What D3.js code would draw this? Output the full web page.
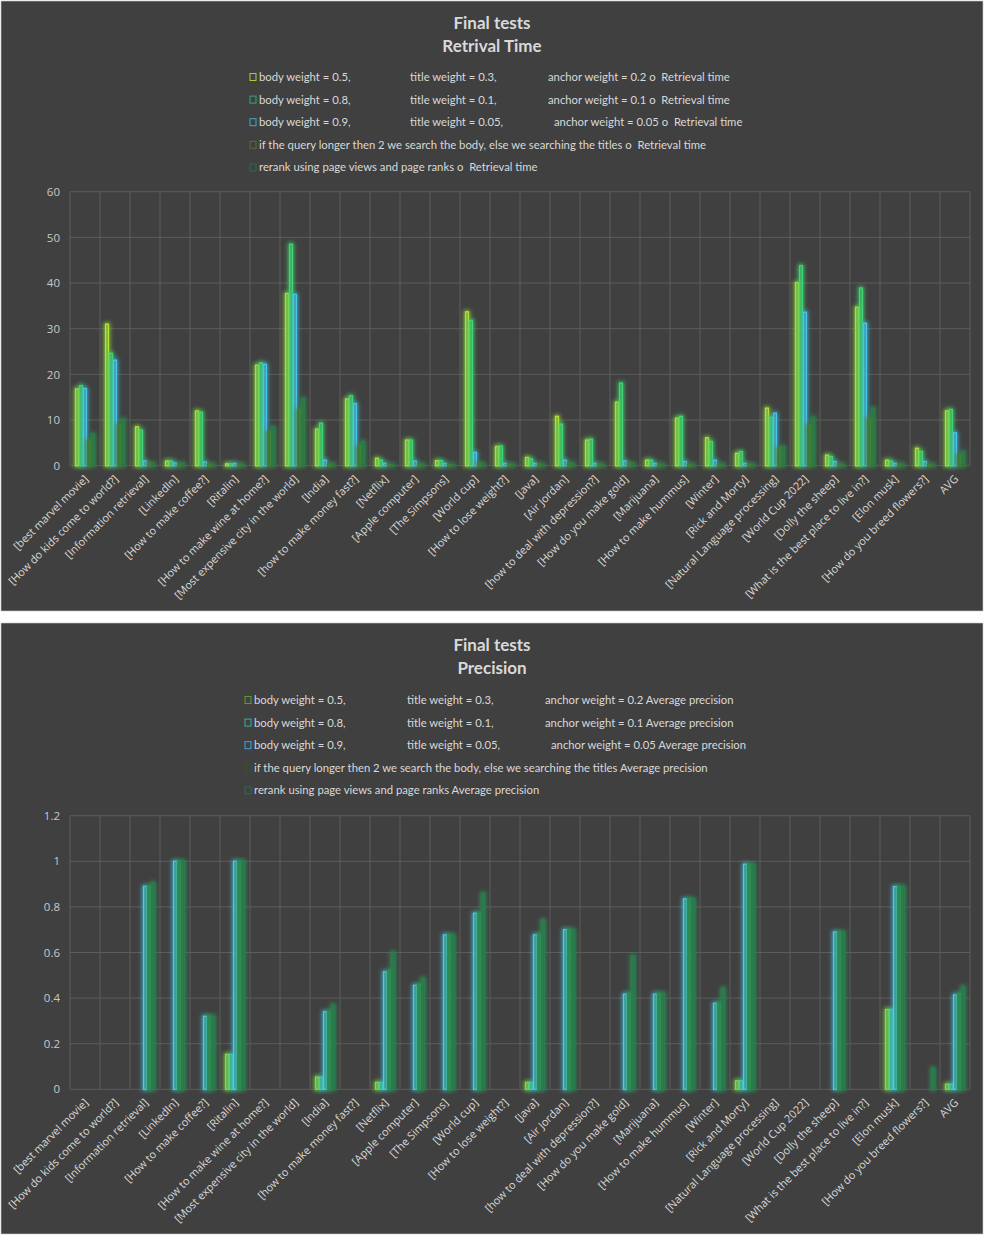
<!DOCTYPE html>
<html>
<head>
<meta charset="utf-8">
<script src="https://cdn.jsdelivr.net/npm/d3@7"></script>
<style>
  html, body { margin: 0; padding: 0; background: #ffffff; }
  svg { display: block; }
  .lg { white-space: pre; }
</style>
</head>
<body>
<svg id="chart" width="985" height="1236"></svg>
<script>
// ---------------- DATA ----------------
const categories = [
  "[best marvel movie]", "[How do kids come to world?]", "[Information retrieval]", "[LinkedIn]",
  "[How to make coffee?]", "[Ritalin]", "[How to make wine at home?]", "[Most expensive city in the world]",
  "[India]", "[how to make money fast?]", "[Netflix]", "[Apple computer]", "[The Simpsons]", "[World cup]",
  "[How to lose weight?]", "[Java]", "[Air Jordan]", "[how to deal with depression?]", "[How do you make gold]",
  "[Marijuana]", "[How to make hummus]", "[Winter]", "[Rick and Morty]", "[Natural Language processing]",
  "[World Cup 2022]", "[Dolly the sheep]", "[What is the best place to live in?]", "[Elon musk]",
  "[How do you breed flowers?]", "AVG"
];

// Retrieval time (seconds)
const rtBody05 = [16.8, 31.0, 8.5, 1.0, 12.0, 0.4, 22.0, 37.7, 8.0, 14.6, 1.6, 5.6, 1.1, 33.7, 4.2,
                  1.8, 10.8, 5.6, 13.9, 1.2, 10.4, 6.1, 2.7, 12.6, 40.1, 2.3, 34.7, 1.2, 3.8, 12.0];
const rtBody08 = [17.5, 24.6, 7.8, 1.0, 11.7, 0.4, 22.5, 48.5, 9.3, 15.3, 1.2, 5.6, 1.1, 31.8, 4.3,
                  1.5, 9.1, 5.8, 18.1, 1.2, 10.8, 5.3, 3.1, 10.6, 43.8, 2.0, 38.9, 1.0, 3.1, 12.3];
const rtBody09 = [16.9, 23.1, 1.0, 0.6, 0.8, 0.5, 22.2, 37.5, 1.2, 13.6, 0.5, 1.0, 0.5, 2.9, 0.5,
                  0.5, 1.2, 0.5, 1.0, 0.5, 0.9, 1.2, 0.5, 11.5, 33.6, 0.9, 31.2, 0.5, 0.9, 7.2];
const rtLongQuery = [5.5, 8.9, 0.5, 0.3, 0.3, 0.3, 7.4, 12.3, 0.3, 4.2, 0.2, 0.3, 0.2, 0.5, 0.3,
                  0.3, 0.5, 0.3, 0.5, 0.3, 0.3, 0.3, 0.3, 3.8, 8.9, 0.3, 10.4, 0.3, 0.3, 2.3];
const rtRerank = [7.0, 10.2, 0.5, 0.5, 0.3, 0.3, 8.5, 14.7, 0.4, 5.3, 0.2, 0.3, 0.2, 0.5, 0.3,
                  0.3, 0.5, 0.3, 0.5, 0.3, 0.3, 0.3, 0.3, 4.2, 10.6, 0.3, 12.6, 0.3, 0.3, 3.1];

// Average precision
const prBody05 = [0, 0, 0, 0, 0, 0.153, 0, 0, 0.053, 0, 0.03, 0, 0, 0, 0,
                  0.03, 0, 0, 0, 0, 0, 0, 0.037, 0, 0, 0, 0, 0.35, 0, 0.022];
const prBody08 = [0, 0, 0, 0, 0, 0.153, 0, 0, 0.053, 0, 0.03, 0, 0, 0, 0,
                  0.03, 0, 0, 0, 0, 0, 0, 0.037, 0, 0, 0, 0, 0.35, 0, 0.022];
const prBody09 = [0, 0, 0.89, 1.0, 0.32, 1.0, 0, 0, 0.34, 0, 0.515, 0.456, 0.677, 0.772, 0,
                  0.677, 0.70, 0, 0.417, 0.417, 0.835, 0.377, 0.987, 0, 0, 0.69, 0, 0.889, 0, 0.414];
const prLongQuery = [0, 0, 0.89, 1.0, 0.32, 1.0, 0, 0, 0.34, 0, 0.52, 0.46, 0.677, 0.772, 0,
                  0.68, 0.70, 0, 0.42, 0.42, 0.835, 0.38, 0.987, 0, 0, 0.69, 0, 0.889, 0, 0.42];
const prRerank = [0, 0, 0.905, 1.0, 0.32, 1.0, 0, 0, 0.37, 0, 0.60, 0.487, 0.677, 0.86, 0,
                  0.743, 0.70, 0, 0.586, 0.42, 0.835, 0.443, 0.987, 0, 0, 0.69, 0, 0.889, 0.092, 0.45];

const rtSeriesNames = [
  ["body weight = 0.5,", "title weight = 0.3,", "anchor weight = 0.2 o  Retrieval time"],
  ["body weight = 0.8,", "title weight = 0.1,", "anchor weight = 0.1 o  Retrieval time"],
  ["body weight = 0.9,", "title weight = 0.05,", "anchor weight = 0.05 o  Retrieval time"],
  ["if the query longer then 2 we search the body, else we searching the titles o  Retrieval time"],
  ["rerank using page views and page ranks o  Retrieval time"]
];
const prSeriesNames = [
  ["body weight = 0.5,", "title weight = 0.3,", "anchor weight = 0.2 Average precision"],
  ["body weight = 0.8,", "title weight = 0.1,", "anchor weight = 0.1 Average precision"],
  ["body weight = 0.9,", "title weight = 0.05,", "anchor weight = 0.05 Average precision"],
  ["if the query longer then 2 we search the body, else we searching the titles Average precision"],
  ["rerank using page views and page ranks Average precision"]
];

const rtTicks = [0, 10, 20, 30, 40, 50, 60];
const prTicks = [0, 0.2, 0.4, 0.6, 0.8, 1, 1.2];

// ---------------- STYLE ----------------
const svg = d3.select("#chart");
const defs = svg.append("defs");

const rtStyles = [
  {stroke: "#b8e03a", fill: "none", glow: "#8fd63a", marker: "#a6cf3a"},
  {stroke: "#3fd677", fill: "none", glow: "#3fcf6a", marker: "#2fa870"},
  {stroke: "#4cc4ec", fill: "none", glow: "#3fb0c8", marker: "#3aaad0"},
  {stroke: "#4f7a25", fill: "rgba(70,110,35,0.55)", glow: "#4a7f2a", marker: "#55702a"},
  {stroke: "#2d7a47", fill: "rgba(40,120,70,0.5)", glow: "#2e8a50", marker: "#2b6a4a"}
];
const prStyles = [
  {stroke: "#9ad83a", fill: "none", glow: "#7fd03a", marker: "#5e9a2e"},
  {stroke: "#45d0a8", fill: "none", glow: "#38c08a", marker: "#35b496"},
  {stroke: "#5ccdee", fill: "none", glow: "#3fb4d8", marker: "#3ea6de"},
  {stroke: "#2f8a52", fill: "rgba(45,130,80,0.75)", glow: "#2e9a58", marker: "#3a5424"},
  {stroke: "#2b7c4e", fill: "rgba(40,120,75,0.75)", glow: "#2e9058", marker: "#2a6d50"}
];

function makeGlow(id, color) {
  const f = defs.append("filter").attr("id", id)
    .attr("x", "-200%").attr("y", "-10%").attr("width", "500%").attr("height", "120%");
  f.append("feMorphology").attr("in", "SourceAlpha").attr("operator", "dilate").attr("radius", 1.2).attr("result", "d");
  f.append("feGaussianBlur").attr("in", "d").attr("stdDeviation", 2.3).attr("result", "b");
  f.append("feFlood").attr("flood-color", color).attr("flood-opacity", 0.85).attr("result", "c");
  f.append("feComposite").attr("in", "c").attr("in2", "b").attr("operator", "in").attr("result", "g");
  const m = f.append("feMerge");
  m.append("feMergeNode").attr("in", "g");
  m.append("feMergeNode").attr("in", "SourceGraphic");
}

const BG = "#404040";
const GRID = "#5c5c5c";
const TEXT = "#d9d9d9";
const AXTEXT = "#c8c8c8";
const LFONT = "Lato, 'Open Sans', sans-serif";

function drawPanel(cfg) {
  const g = svg.append("g");
  g.append("rect").attr("x", cfg.px).attr("y", cfg.py).attr("width", cfg.pw).attr("height", cfg.ph)
    .attr("fill", BG).attr("stroke", "#c8c8c8").attr("stroke-width", 0.6);

  // titles
  g.append("text").attr("x", 492).attr("y", cfg.py + 28).attr("text-anchor", "middle")
    .attr("font-family", LFONT).attr("font-weight", "bold")
    .attr("font-size", 17).attr("fill", TEXT).text(cfg.title1);
  g.append("text").attr("x", 492).attr("y", cfg.py + 51).attr("text-anchor", "middle")
    .attr("font-family", LFONT).attr("font-weight", "bold")
    .attr("font-size", 17).attr("fill", TEXT).text(cfg.title2);

  const x = d3.scaleBand().domain(categories).range([cfg.x0, cfg.x1]).padding(0);
  const x1 = d3.scaleBand().domain(d3.range(5)).range([x.bandwidth() / 6, x.bandwidth() * 5 / 6]).padding(0);
  const y = d3.scaleLinear().domain(cfg.domain).range([cfg.yb, cfg.yt]);

  // gridlines
  const grid = g.append("g");
  grid.selectAll("line.h").data(cfg.ticks).join("line")
    .attr("x1", cfg.x0).attr("x2", cfg.x1).attr("y1", d => y(d)).attr("y2", d => y(d))
    .attr("stroke", GRID).attr("stroke-width", 1);
  const vx = categories.map(c => x(c)).concat([cfg.x1]);
  grid.selectAll("line.v").data(vx).join("line")
    .attr("x1", d => d).attr("x2", d => d).attr("y1", cfg.yt).attr("y2", cfg.yb)
    .attr("stroke", GRID).attr("stroke-width", 1);

  // y axis
  const ya = d3.axisLeft(y).tickValues(cfg.ticks).tickSize(0).tickPadding(10)
    .tickFormat(d => String(d));
  const yg = g.append("g").attr("transform", `translate(${cfg.x0},0)`).call(ya);
  yg.select(".domain").remove();
  yg.selectAll("text").attr("fill", AXTEXT).attr("font-size", 11.5)
    .attr("font-family", "'Open Sans', sans-serif");

  // x axis labels
  const xa = d3.axisBottom(x).tickSize(0).tickPadding(0);
  const xg = g.append("g").attr("transform", `translate(0,${cfg.yb})`).call(xa);
  xg.select(".domain").remove();
  xg.selectAll("text").attr("fill", TEXT).attr("font-size", 10.9)
    .attr("font-family", "'Open Sans', sans-serif")
    .attr("text-anchor", "end").attr("dy", null)
    .attr("transform", "translate(4,14) rotate(-45)");

  // bars
  cfg.series.forEach((vals, si) => {
    const st = cfg.styles[si];
    const fid = cfg.id + "-glow-" + si;
    makeGlow(fid, st.glow);
    const data = categories.map((c, i) => ({c, v: vals[i]})).filter(d => d.v > 0);
    g.append("g").attr("filter", `url(#${fid})`).selectAll("rect").data(data).join("rect")
      .attr("x", d => x(d.c) + x1(si) + 0.6)
      .attr("width", x1.bandwidth() - 1.2)
      .attr("y", d => y(d.v))
      .attr("height", d => cfg.yb - y(d.v))
      .attr("fill", st.fill === "none" ? "rgba(0,0,0,0)" : st.fill)
      .attr("stroke", st.stroke).attr("stroke-width", 1.3);
  });

  // legend
  const lg = g.append("g");
  cfg.names.forEach((parts, i) => {
    const ly = cfg.legY + i * 22.6;
    lg.append("rect").attr("x", cfg.legX).attr("y", ly - 7.5).attr("width", 6).attr("height", 7)
      .attr("fill", "none").attr("stroke", cfg.styles[i].marker).attr("stroke-width", 1);
    parts.forEach((p, k) => {
      let xx = cfg.legX + 9;
      if (k === 1) xx = cfg.colX[0];
      if (k === 2) xx = cfg.colX[1] + (i === 2 ? 6 : 0);
      lg.append("text").attr("class", "lg").attr("x", xx).attr("y", ly)
        .attr("font-family", LFONT)
        .attr("font-size", 11.3).attr("fill", TEXT).text(p);
    });
  });
}

drawPanel({
  id: "rt", px: 1, py: 1, pw: 982, ph: 610,
  title1: "Final tests", title2: "Retrival Time",
  x0: 70, x1: 970, yb: 465.7, yt: 191.7, domain: [0, 60], ticks: rtTicks,
  series: [rtBody05, rtBody08, rtBody09, rtLongQuery, rtRerank], styles: rtStyles,
  names: rtSeriesNames, legX: 250, legY: 81, colX: [410, 548]
});
drawPanel({
  id: "pr", px: 1, py: 623, pw: 982, ph: 611,
  title1: "Final tests", title2: "Precision",
  x0: 70, x1: 970, yb: 1089.3, yt: 815.7, domain: [0, 1.2], ticks: prTicks,
  series: [prBody05, prBody08, prBody09, prLongQuery, prRerank], styles: prStyles,
  names: prSeriesNames, legX: 245, legY: 704, colX: [407, 545]
});
</script>
</body>
</html>
